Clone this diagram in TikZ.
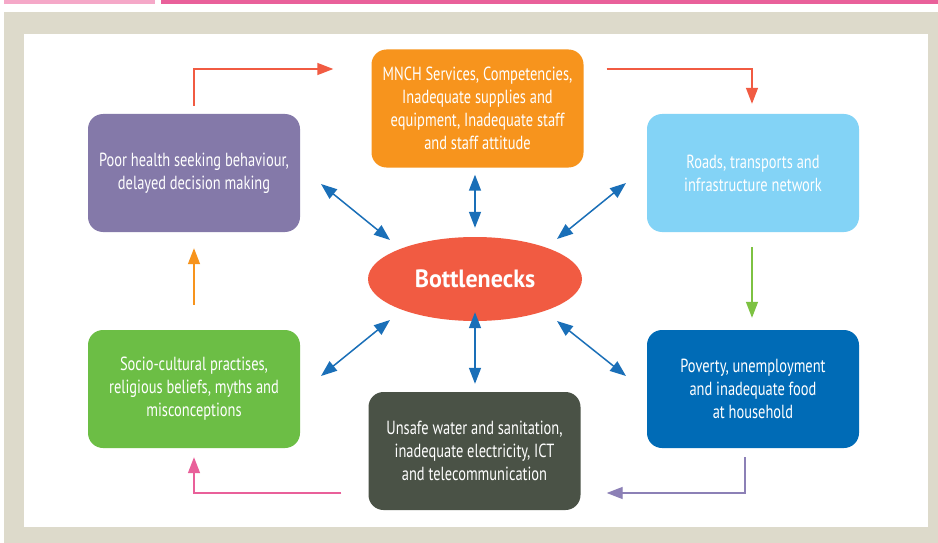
\documentclass[tikz,border=0pt]{standalone}
\usepackage{fontspec}
\setmainfont{PT Sans}
\newfontfamily\boxfont[FakeStretch=0.76]{PT Sans}
\newfontfamily\titlefont[FakeStretch=0.96]{PT Sans}
\usetikzlibrary{arrows.meta,shapes.geometric}

\definecolor{pinklight}{HTML}{F5A8C8}
\definecolor{pinkdark}{HTML}{E9609A}
\definecolor{frame}{HTML}{DDDACB}
\definecolor{cOrange}{HTML}{F7941D}
\definecolor{cPurple}{HTML}{8479A9}
\definecolor{cSky}{HTML}{83D3F6}
\definecolor{cRed}{HTML}{F15B42}
\definecolor{cGreen}{HTML}{6CBE45}
\definecolor{cGrey}{HTML}{4A5246}
\definecolor{cNavy}{HTML}{006BB6}
\definecolor{cLink}{HTML}{1A6FB8}
\definecolor{cLav}{HTML}{8C80B6}
\definecolor{cLime}{HTML}{7DC242}

\tikzset{
  factor/.style={rounded corners=15pt, minimum width=212pt, minimum height=118pt,
    inner sep=0pt, align=center, text=white,
    font=\boxfont\fontsize{19}{23}\selectfont},
  flow/.style={line width=1.4pt, -{Triangle[length=16pt,width=12pt]}},
  link/.style={line width=1.5pt, color=cLink,
    {Triangle[length=16pt,width=12pt]}-{Triangle[length=16pt,width=12pt]}},
}

\begin{document}
\begin{tikzpicture}[x=1pt,y=-1pt]
  \useasboundingbox (0,0) rectangle (938,543);

  % page trim and frame
  \fill[pinklight] (4,0) rectangle (155,4);
  \fill[pinkdark] (161,0) rectangle (938,4);
  \fill[frame] (4,12) rectangle (938,543);
  \fill[white] (24,34) rectangle (928,527);

  % factor boxes
  \node[factor, fill=cOrange] (mnch) at (477.5,108.5)
    {MNCH Services, Competencies,\\Inadequate supplies and\\equipment, Inadequate staff\\and staff attitude};
  \node[factor, fill=cPurple] (seek) at (194,173)
    {Poor health seeking behaviour,\\delayed decision making};
  \node[factor, fill=cSky] (roads) at (753,173)
    {Roads, transports and\\infrastructure network};
  \node[factor, fill=cGreen] (socio) at (194,389)
    {Socio-cultural practises,\\religious beliefs, myths and\\misconceptions};
  \node[factor, fill=cNavy] (poverty) at (753,389)
    {Poverty, unemployment\\and inadequate food\\at household};
  \node[factor, fill=cGrey] (water) at (474.5,451)
    {Unsafe water and sanitation,\\inadequate electricity, ICT\\and telecommunication};

  % central hub
  \node[ellipse, fill=cRed, minimum width=214pt, minimum height=84pt, inner sep=0pt,
    text=white, font=\titlefont\bfseries\fontsize{25}{28}\selectfont] (hub) at (475,279) {Bottlenecks};

  % cycle of factors
  \draw[flow, cRed] ([yshift=8pt]seek.north) |- ([xshift=-38pt,yshift=39.5pt]mnch.west);
  \draw[flow, cRed] ([xshift=23pt,yshift=39.5pt]mnch.east) -| ([xshift=-1pt,yshift=10pt]roads.north);
  \draw[flow, cLime] ([xshift=-1pt,yshift=-15pt]roads.south) -- ([xshift=-1pt,yshift=12pt]poverty.north);
  \draw[flow, cLav] ([xshift=-8pt,yshift=-9pt]poverty.south) |- ([xshift=26pt,yshift=-42pt]water.east);
  \draw[flow, pinkdark] ([xshift=-27pt,yshift=-42pt]water.west) -| ([yshift=-9pt]socio.south);
  \draw[flow, cOrange] ([yshift=25pt]socio.north) -- ([yshift=-16pt]seek.south);

  % links to the hub
  \coordinate (ulA) at (321,184);  \coordinate (ulB) at (390,240);
  \coordinate (urA) at (626,183);  \coordinate (urB) at (557,239);
  \coordinate (llA) at (321,376);  \coordinate (llB) at (390,320);
  \coordinate (lrA) at (626,376);  \coordinate (lrB) at (557,321);
  \draw[link] (ulA) -- (ulB);
  \draw[link] (urA) -- (urB);
  \draw[link] (llA) -- (llB);
  \draw[link] (lrA) -- (lrB);
  \draw[link] ([xshift=-2.5pt,yshift=-7pt]mnch.south) -- ([yshift=9pt]hub.north);
  \draw[link] ([yshift=9pt]hub.south) -- ([xshift=0.5pt,yshift=8pt]water.north);
\end{tikzpicture}
\end{document}
